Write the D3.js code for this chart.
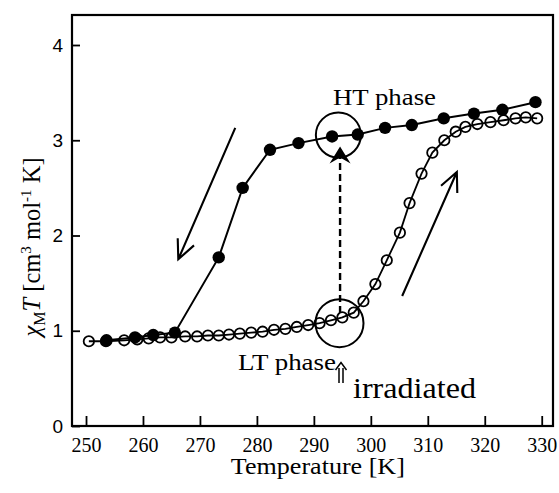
<!DOCTYPE html>
<html><head><meta charset="utf-8">
<script src="https://cdn.jsdelivr.net/npm/d3@7"></script>
<style>body{margin:0;background:#fff}svg{display:block}</style>
</head><body>
<svg id="chart" width="559" height="493"></svg>
<script>
// ---- data ----
const tempTicks = [250, 260, 270, 280, 290, 300, 310, 320, 330];
const chiTicks = [0, 1, 2, 3, 4];
// cooling (filled circles)
const coolT = [253.6, 258.6, 261.8, 265.6, 273.3, 277.5, 282.3, 287.3, 293.2, 297.7, 302.5, 307.2, 312.8, 318.1, 323.1, 328.9];
const coolV = [0.90, 0.93, 0.955, 0.98, 1.77, 2.50, 2.90, 2.97, 3.04, 3.06, 3.13, 3.16, 3.23, 3.28, 3.32, 3.40];
// heating (open circles)
const heatT = [250.5, 253.5, 256.7, 259, 261, 263, 265, 267.4, 269.5, 271.4, 273.3, 275.1, 277, 279, 281, 283, 285, 287, 289, 291, 293, 295, 297, 298.7, 300.8, 302.8, 305.1, 306.8, 308.9, 310.8, 312.9, 314.9, 316.6, 318.7, 321, 323.3, 325.4, 327.2, 329.2];
const heatV = [0.89, 0.89, 0.90, 0.91, 0.92, 0.93, 0.93, 0.94, 0.94, 0.95, 0.95, 0.96, 0.97, 0.98, 0.99, 1.01, 1.02, 1.04, 1.06, 1.08, 1.11, 1.14, 1.19, 1.31, 1.49, 1.74, 2.03, 2.34, 2.65, 2.87, 3.00, 3.09, 3.14, 3.17, 3.19, 3.21, 3.23, 3.24, 3.23];

const serif = "Liberation Serif";
const sans = "Liberation Sans";

const svg = d3.select("#chart");
const L = 72, R = 553, T = 15, B = 426;
const x = d3.scaleLinear().domain([247.54, 331.98]).range([L, R]);
const y = d3.scaleLinear().domain([0, 4.315]).range([B, T]);

// axes
const gx = svg.append("g").attr("transform", `translate(0,${B})`)
  .call(d3.axisBottom(x).tickValues(tempTicks).tickFormat(d3.format("d")).tickSizeInner(-10).tickSizeOuter(0).tickPadding(12));
gx.attr("font-family", serif).attr("font-size", 20).attr("stroke-width", 1.8);
gx.selectAll("path.domain").remove();
gx.selectAll("text").attr("font-family", serif).attr("font-size", 20).attr("fill", "#000");
gx.selectAll("line").attr("stroke", "#000").attr("stroke-width", 1.8);

const gy = svg.append("g").attr("transform", `translate(${L},0)`)
  .call(d3.axisLeft(y).tickValues(chiTicks).tickFormat(d3.format("d")).tickSizeInner(-8).tickSizeOuter(0).tickPadding(9));
gy.attr("font-family", sans).attr("font-size", 19).attr("stroke-width", 1.8);
gy.selectAll("path.domain").remove();
gy.selectAll("text").attr("font-family", sans).attr("font-size", 19).attr("fill", "#000");
gy.selectAll("line").attr("stroke", "#000").attr("stroke-width", 1.8);

// frame
svg.append("rect").attr("x", L).attr("y", T).attr("width", R - L).attr("height", B - T)
  .attr("fill", "none").attr("stroke", "#000").attr("stroke-width", 2.2);

// axis titles
svg.append("text").attr("x", (x(250) + x(330)) / 2 + 4).attr("y", 474)
  .attr("text-anchor", "middle").attr("font-family", serif)
  .attr("font-size", 23).attr("textLength", 174).attr("lengthAdjust", "spacingAndGlyphs")
  .text("Temperature [K]");

const yl = svg.append("text").attr("transform", "translate(40,247) rotate(-90)")
  .attr("text-anchor", "middle").attr("font-family", serif).attr("font-size", 24.5);
yl.append("tspan").attr("font-style", "italic").text("χ");
yl.append("tspan").attr("font-size", 16).attr("dy", 5).text("M");
yl.append("tspan").attr("font-style", "italic").attr("dy", -5).text("T");
yl.append("tspan").text(" [cm");
yl.append("tspan").attr("font-size", 15).attr("dy", -9).text("3");
yl.append("tspan").attr("dy", 9).text(" mol");
yl.append("tspan").attr("font-size", 15).attr("dy", -9).text("-1");
yl.append("tspan").attr("dy", 9).text(" K]");

// series lines
const heat = heatT.map((t, i) => ({t, v: heatV[i]}));
const cool = coolT.map((t, i) => ({t, v: coolV[i]}));
const line = d3.line().x(d => x(d.t)).y(d => y(d.v));
svg.append("path").datum(heat).attr("d", line).attr("fill", "none").attr("stroke", "#000").attr("stroke-width", 1.8);
svg.append("path").datum(cool).attr("d", line).attr("fill", "none").attr("stroke", "#000").attr("stroke-width", 2);

svg.append("g").selectAll("circle").data(heat).join("circle")
  .attr("cx", d => x(d.t)).attr("cy", d => y(d.v)).attr("r", 5.2)
  .attr("fill", "none").attr("stroke", "#000").attr("stroke-width", 1.8);
svg.append("g").selectAll("circle").data(cool).join("circle")
  .attr("cx", d => x(d.t)).attr("cy", d => y(d.v)).attr("r", 6.2).attr("fill", "#000");

// ---- annotations ----
svg.append("circle").attr("cx", x(294.3)).attr("cy", y(3.055)).attr("r", 22.5)
  .attr("fill", "none").attr("stroke", "#000").attr("stroke-width", 2);
svg.append("circle").attr("cx", x(294.5)).attr("cy", y(1.08)).attr("r", 24)
  .attr("fill", "none").attr("stroke", "#000").attr("stroke-width", 2);

// dashed irradiation arrow
const xa = x(294.6);
svg.append("line").attr("x1", xa).attr("x2", xa).attr("y1", y(1.186)).attr("y2", y(2.83))
  .attr("stroke", "#000").attr("stroke-width", 2.4).attr("stroke-dasharray", "7,4");
const tipY = y(2.935);
svg.append("path").attr("d", `M${xa},${tipY} L${xa + 10.5},${tipY + 17} L${xa},${tipY + 11} L${xa - 10.5},${tipY + 17} Z`).attr("fill", "#000");

// open arrows (cooling / heating)
function arrow(t0, v0, t1, v1) {
  const x0 = x(t0), y0 = y(v0), x1 = x(t1), y1 = y(v1);
  const a = Math.atan2(y0 - y1, x0 - x1), len = 21, sp = 25 * Math.PI / 180;
  const w1 = [x1 + len * Math.cos(a + sp), y1 + len * Math.sin(a + sp)];
  const w2 = [x1 + len * Math.cos(a - sp), y1 + len * Math.sin(a - sp)];
  svg.append("path").attr("d", `M${x0},${y0} L${x1},${y1} M${w1[0]},${w1[1]} L${x1},${y1} L${w2[0]},${w2[1]}`)
    .attr("fill", "none").attr("stroke", "#000").attr("stroke-width", 2.1);
}
arrow(276.2, 3.13, 266.2, 1.75);
arrow(305.5, 1.365, 315.1, 2.667);

// labels
svg.append("text").attr("x", 333).attr("y", 105).attr("font-family", serif)
  .attr("font-size", 23).attr("textLength", 103).attr("lengthAdjust", "spacingAndGlyphs").text("HT phase");
svg.append("text").attr("x", 238).attr("y", 370).attr("font-family", serif)
  .attr("font-size", 24).attr("textLength", 98).attr("lengthAdjust", "spacingAndGlyphs").text("LT phase");
svg.append("text").attr("x", 353).attr("y", 398).attr("font-family", serif)
  .attr("font-size", 30).attr("textLength", 123).attr("lengthAdjust", "spacingAndGlyphs").text("irradiated");

// double arrow
svg.append("path").attr("d", "M339,383 L339,368 M343,383 L343,368 M335.5,370 L341,362.5 L346.5,370")
  .attr("fill", "none").attr("stroke", "#000").attr("stroke-width", 1.5);
</script>
</body></html>
